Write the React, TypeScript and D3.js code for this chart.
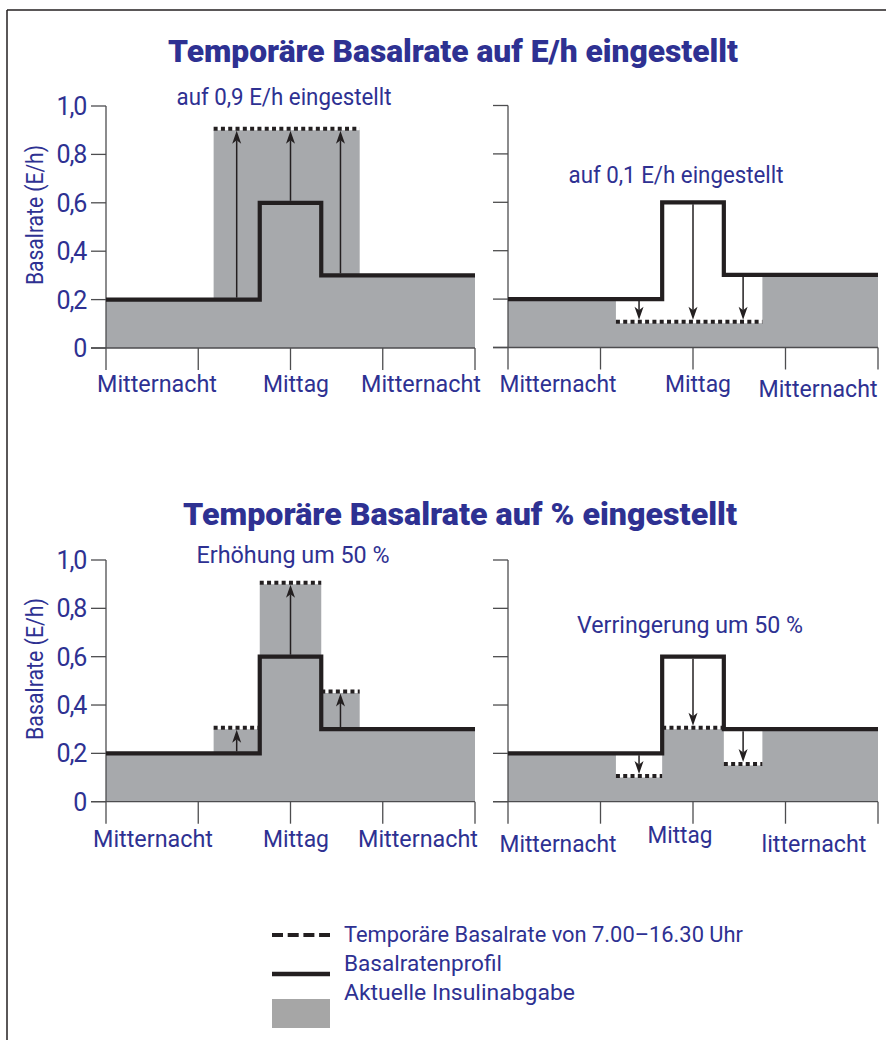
import React from "react";
import * as d3 from "d3";

// ---------- data ----------
const hourTicks = [0, 6, 12, 18, 24];
const rateTicks = [0, 0.2, 0.4, 0.6, 0.8, 1.0];
const rateTickLabels = ["0", "0,2", "0,4", "0,6", "0,8", "1,0"];
const profileBreaks = [0, 10, 14, 24];
const profileRates = [0.2, 0.6, 0.3];
const tempStart = 7;
const tempEnd = 16.5;
const arrowHours = [8.5, 12, 15.25];
const fixedUpRates = [0.9, 0.9, 0.9];
const fixedDownRates = [0.1, 0.1, 0.1];
const pctUpRates = [0.3, 0.9, 0.45];
const pctDownRates = [0.1, 0.3, 0.15];
const xLabelTexts = ["Mitternacht", "Mittag", "Mitternacht"];
const xLabelTextsCut = ["Mitternacht", "Mittag", "litternacht"];
const titleFixed = "Temporäre Basalrate auf E/h eingestellt";
const titlePct = "Temporäre Basalrate auf % eingestellt";
const legendTexts = [
  "Temporäre Basalrate von 7.00–16.30 Uhr",
  "Basalratenprofil",
  "Aktuelle Insulinabgabe",
];
const yAxisTitle = "Basalrate (E/h)";

// ---------- style ----------
const FONT = "Roboto, 'Open Sans', sans-serif";
const BLUE = "#2e3192";
const FILL = "#a7a9ac";
const INK = "#231f20";
const AXIS = "#4d4d4f";

const tempBounds = [tempStart, ...profileBreaks.filter((b) => b > tempStart && b < tempEnd), tempEnd];

function profileAt(h: number) {
  for (let i = 0; i < profileRates.length; i++) {
    if (h >= profileBreaks[i] && h < profileBreaks[i + 1]) return profileRates[i];
  }
  return profileRates[profileRates.length - 1];
}
function tempAt(h: number, rates: number[]) {
  for (let i = 0; i < rates.length; i++) {
    if (h >= tempBounds[i] && h < tempBounds[i + 1]) return rates[i];
  }
  return null;
}

type Panel = {
  x0: number; x1: number; yb: number; yt: number;
  temp: number[]; continuous: boolean; yLabels: boolean;
  note: string; noteX: number; noteY: number; noteW: number;
  labels: string[]; labelX: number[]; labelY: number[]; labelW: number[];
};

const panels: Panel[] = [
  { x0: 106, x1: 475, yb: 348, yt: 106, temp: fixedUpRates, continuous: true, yLabels: true,
    note: "auf 0,9 E/h eingestellt", noteX: 284, noteY: 105, noteW: 215,
    labels: xLabelTexts, labelX: [157, 296, 421], labelY: [392, 392, 392], labelW: [120, 66, 120] },
  { x0: 508, x1: 878, yb: 347.5, yt: 105.5, temp: fixedDownRates, continuous: true, yLabels: false,
    note: "auf 0,1 E/h eingestellt", noteX: 676, noteY: 183, noteW: 215,
    labels: xLabelTexts, labelX: [558, 698, 818], labelY: [392, 392, 397], labelW: [117, 66, 119] },
  { x0: 106, x1: 475, yb: 801.7, yt: 560, temp: pctUpRates, continuous: false, yLabels: true,
    note: "Erhöhung um 50 %", noteX: 293, noteY: 563, noteW: 193,
    labels: xLabelTexts, labelX: [153, 296, 418], labelY: [847, 847, 847], labelW: [120, 66, 120] },
  { x0: 508, x1: 878, yb: 801.7, yt: 560, temp: pctDownRates, continuous: false, yLabels: false,
    note: "Verringerung um 50 %", noteX: 690, noteY: 633, noteW: 226,
    labels: xLabelTextsCut, labelX: [558, 680, 814], labelY: [852, 843, 852], labelW: [117, 65, 105] },
];

function Arrow({ x, y1, y2 }: { x: number; y1: number; y2: number }) {
  const dir = y2 < y1 ? 1 : -1; // 1 = up
  const len = 13, hw = 4.5, notch = 9.5;
  const head = `M${x},${y2} L${x - hw},${y2 + dir * len} L${x},${y2 + dir * notch} L${x + hw},${y2 + dir * len} Z`;
  return (
    <g>
      <line x1={x} x2={x} y1={y1} y2={y2 + dir * notch} stroke={INK} strokeWidth={1.5} />
      <path d={head} fill={INK} />
    </g>
  );
}

function PanelView({ p }: { p: Panel }) {
  const x = d3.scaleLinear().domain([0, 24]).range([p.x0, p.x1]);
  const y = d3.scaleLinear().domain([0, 1]).range([p.yb, p.yt]);

  const profilePts: [number, number][] = profileBreaks.map((b, i) => [b, profileRates[Math.min(i, profileRates.length - 1)]]);
  const lineGen = d3.line<[number, number]>().x((d) => x(d[0])).y((d) => y(d[1])).curve(d3.curveStepAfter);

  const deliveredBreaks = Array.from(new Set([...profileBreaks, ...tempBounds])).sort((a, b) => a - b);
  const deliveredPts: [number, number][] = deliveredBreaks.map((b) => {
    const t = tempAt(b, p.temp);
    return [b, t !== null ? t : profileAt(b)];
  });
  const areaGen = d3.area<[number, number]>().x((d) => x(d[0])).y0(y(0)).y1((d) => y(d[1])).curve(d3.curveStepAfter);

  const dotted: { a: number; b: number; r: number }[] = p.continuous
    ? [{ a: tempBounds[0], b: tempBounds[tempBounds.length - 1], r: p.temp[0] }]
    : p.temp.map((r, i) => ({ a: tempBounds[i], b: tempBounds[i + 1], r }));

  return (
    <g>
      <path d={areaGen(deliveredPts) || ""} fill={FILL} />
      {/* axes */}
      <line x1={x(0)} x2={x(0)} y1={y(0)} y2={y(1)} stroke={AXIS} strokeWidth={1.3} />
      <line x1={x(0) - 15} x2={x(24)} y1={y(0)} y2={y(0)} stroke={AXIS} strokeWidth={1.3} />
      {rateTicks.map((t) => (
        <line key={"yt" + t} x1={x(0) - 15} x2={x(0)} y1={y(t)} y2={y(t)} stroke={AXIS} strokeWidth={1.3} />
      ))}
      {hourTicks.map((t) => (
        <line key={"xt" + t} x1={x(t)} x2={x(t)} y1={y(0)} y2={y(0) + 22} stroke={AXIS} strokeWidth={1.3} />
      ))}
      {p.yLabels &&
        rateTicks.map((t, i) => (
          <text key={"yl" + t} x={x(0) - 20} y={y(t) + 9} textAnchor="end" fontSize={25} fill={BLUE} fontFamily={FONT} letterSpacing={-1.2}>
            {rateTickLabels[i]}
          </text>
        ))}
      {/* arrows */}
      {arrowHours.map((h) => {
        const from = profileAt(h);
        const to = tempAt(h, p.temp) as number;
        const up = to > from;
        const y1 = up ? y(from) - 2 : y(from) + 2;
        const y2 = up ? y(to) + 0.5 : y(to) - 3.5;
        return <Arrow key={"a" + h} x={x(h)} y1={y1} y2={y2} />;
      })}
      {/* profile */}
      <path d={lineGen(profilePts) || ""} fill="none" stroke={INK} strokeWidth={4.2} strokeLinejoin="miter" />
      {/* temp dotted */}
      {dotted.map((s, i) => (
        <line key={"d" + i} x1={x(s.a)} x2={x(s.b)} y1={y(s.r) - 1.5} y2={y(s.r) - 1.5} stroke={INK} strokeWidth={4} strokeDasharray="4,3.3" />
      ))}
      {/* texts */}
      <text x={p.noteX} y={p.noteY} textAnchor="middle" fontSize={23.5} fill={BLUE} fontFamily={FONT} textLength={p.noteW} lengthAdjust="spacingAndGlyphs">
        {p.note}
      </text>
      {p.labels.map((l, i) => (
        <text key={"xl" + i} x={p.labelX[i]} y={p.labelY[i]} textAnchor="middle" fontSize={24.5} fill={BLUE} fontFamily={FONT} textLength={p.labelW[i]} lengthAdjust="spacingAndGlyphs">
          {l}
        </text>
      ))}
    </g>
  );
}

export default function App() {
  return (
    <svg width={886} height={1040} style={{ position: "absolute", left: 0, top: 0, background: "#fff" }} fontFamily={FONT}>
      <rect x={0} y={0} width={886} height={1040} fill="#fff" />
      <line x1={7} x2={886} y1={10} y2={10} stroke={INK} strokeWidth={1.5} />
      <line x1={7} x2={7} y1={10} y2={1040} stroke={INK} strokeWidth={1.5} />

      <text x={453} y={62} textAnchor="middle" fontSize={32} fontWeight={900} fill={BLUE} textLength={570} lengthAdjust="spacingAndGlyphs">
        {titleFixed}
      </text>
      <text x={460} y={525} textAnchor="middle" fontSize={32} fontWeight={900} fill={BLUE} textLength={554} lengthAdjust="spacingAndGlyphs">
        {titlePct}
      </text>

      <text transform="translate(43,215) rotate(-90)" textAnchor="middle" fontSize={23} fill={BLUE} textLength={140} lengthAdjust="spacingAndGlyphs">
        {yAxisTitle}
      </text>
      <text transform="translate(43,669) rotate(-90)" textAnchor="middle" fontSize={23} fill={BLUE} textLength={142} lengthAdjust="spacingAndGlyphs">
        {yAxisTitle}
      </text>

      {panels.map((p, i) => (
        <PanelView key={i} p={p} />
      ))}

      {/* legend */}
      <line x1={272} x2={330} y1={935} y2={935} stroke={INK} strokeWidth={4} strokeDasharray="11,4.7" />
      <line x1={272} x2={330} y1={974} y2={974} stroke={INK} strokeWidth={4.5} />
      <rect x={272} y={999} width={58} height={29} fill="#a6a6a6" />
      {legendTexts.map((t, i) => (
        <text key={t} x={344} y={942 + i * 29} fontSize={22.5} fill={BLUE} textLength={[399, 158, 231][i]} lengthAdjust="spacingAndGlyphs">
          {t}
        </text>
      ))}
    </svg>
  );
}
